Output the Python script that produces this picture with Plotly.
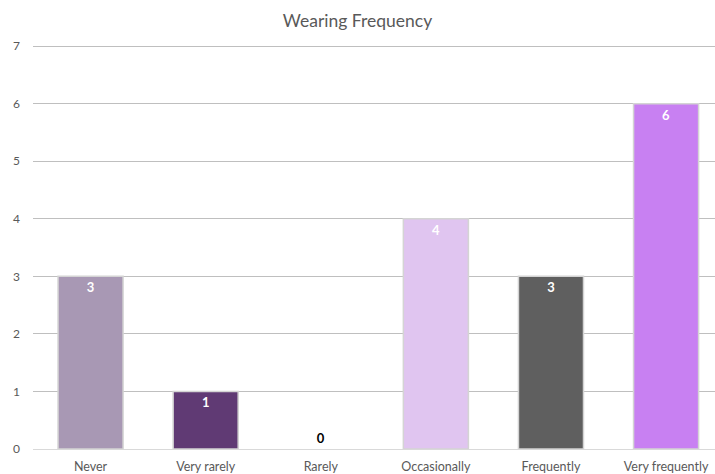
import plotly.graph_objects as go

categories = ["Never", "Very rarely", "Rarely", "Occasionally", "Frequently", "Very frequently"]
counts = [3, 1, 0, 4, 3, 6]
bar_colors = ["#A898B4", "#603A74", "#A0A0A0", "#E0C5F0", "#5F5F5F", "#C880F2"]
y_ticks = [0, 1, 2, 3, 4, 5, 6, 7]

label_pos = ["outside" if v == 0 else "inside" for v in counts]
label_color = ["#000000" if v == 0 else "#FFFFFF" for v in counts]
edge_width = [0 if v == 0 else 1.5 for v in counts]

fig = go.Figure(
    go.Bar(
        x=list(range(len(categories))),
        y=counts,
        width=0.565,
        marker=dict(color=bar_colors, line=dict(color="#D4D4D4", width=edge_width)),
        text=[str(v) for v in counts],
        textposition=label_pos,
        insidetextanchor="end",
        textfont=dict(family="Lato, Open Sans, sans-serif", size=13, color=label_color, weight="bold"),
        cliponaxis=False,
    )
)

fig.update_layout(
    width=715,
    height=474,
    margin=dict(l=33, r=0, t=45, b=23),
    paper_bgcolor="white",
    plot_bgcolor="white",
    showlegend=False,
    title=dict(
        text="Wearing Frequency",
        x=0.5,
        xanchor="center",
        y=0.957,
        yanchor="middle",
        font=dict(family="Lato, Open Sans, sans-serif", size=17.5, color="#595959"),
    ),
    font=dict(family="Lato, Open Sans, sans-serif", size=12, color="#595959"),
)

fig.update_yaxes(
    range=[0, 7.02],
    tickvals=y_ticks,
    showgrid=True,
    gridcolor="#BFBFBF",
    gridwidth=1.2,
    zeroline=False,
    ticks="",
    ticklabelstandoff=12,
    tickfont=dict(size=12, color="#595959"),
)
fig.update_xaxes(
    range=[-0.5, 5.425],
    tickvals=list(range(len(categories))),
    ticktext=categories,
    showline=True,
    linecolor="#D9D9D9",
    linewidth=1,
    ticks="",
    ticklabelstandoff=6,
    tickfont=dict(size=12.5, color="#595959"),
)

fig.write_html("out.html")
